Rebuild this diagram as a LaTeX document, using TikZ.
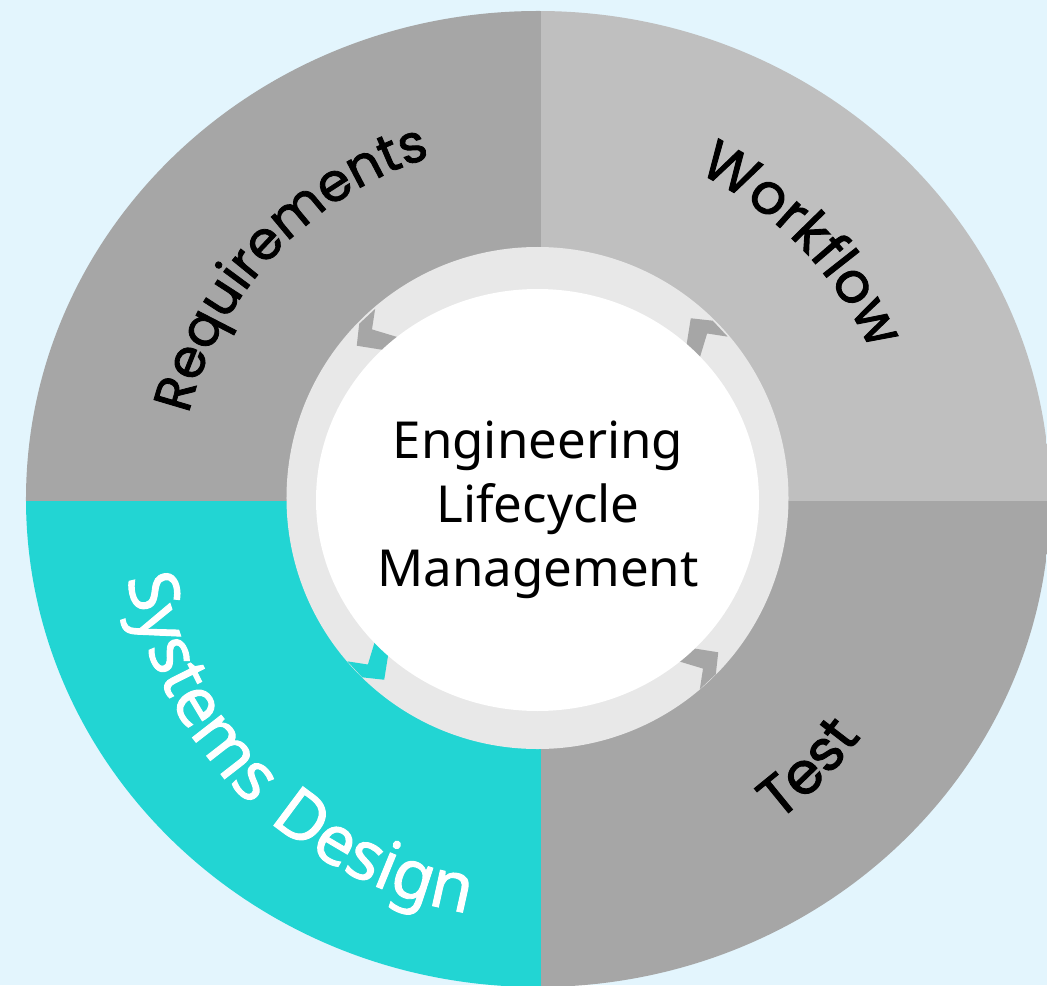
\documentclass[tikz,border=0pt]{standalone}
\usepackage{fontspec}
\setmainfont{Noto Sans}
\newfontfamily\popfont[FakeBold=1.6]{Poppins}
\newfontfamily\sdfont[LetterSpace=8,FakeBold=1.4]{Noto Sans}
\usetikzlibrary{decorations.text}
\definecolor{bgblue}{HTML}{E3F5FD}
\definecolor{darkseg}{HTML}{A6A6A6}
\definecolor{lightseg}{HTML}{BFBFBF}
\definecolor{cyanseg}{HTML}{22D5D3}
\definecolor{ringgray}{HTML}{E8E8E8}
\begin{document}
\begin{tikzpicture}[x=0.5pt,y=0.5pt,
  centertext/.style={anchor=base, inner sep=0pt, font=\fontsize{25.5}{32}\selectfont, text=black},
  arclabel/.style={decorate, decoration={text along path, text align=center, #1}}]
\useasboundingbox (-541,-484) rectangle (506,501);
\fill[bgblue] (-541,-484) rectangle (506,501);
% outer quadrants
\begin{scope}
  \clip (-3,2) ellipse [x radius=512, y radius=488];
  \fill[darkseg] (-600,0) rectangle (0,600);
  \fill[lightseg] (0,0) rectangle (600,600);
  \fill[darkseg] (0,-600) rectangle (600,0);
  \fill[cyanseg] (-600,-600) rectangle (0,0);
\end{scope}
% inner ring of arrows
\fill[ringgray] (-3.5,3) circle [radius=251];
\begin{scope}[shift={(-3.5,2)}]
  \foreach \a/\c in {45/darkseg,135/darkseg,225/cyanseg,315/darkseg}{
    \fill[\c] ({\a+0.5}:250) -- ({\a+4.7}:237) -- ({\a+0.5}:212) -- ({\a-4.5}:212) -- ({\a-0.7}:237) -- ({\a-4.5}:250) -- cycle;
  }
\end{scope}
\fill[white] (-3.5,1) ellipse [x radius=221.5, y radius=211];
% centre text
\node[centertext] (eng) at (-3,43) {Engineering};
\node[centertext] (life) at (-3,-21) {Lifecycle};
\node[centertext] (mgmt) at (-3,-85) {Management};
% curved labels
\path[arclabel={text={|\popfont\fontsize{26.5}{30}\selectfont|Requirements}}]
  (-3,0) ++(181.7:360) arc[start angle=181.7, end angle=91.7, radius=360];
\path[arclabel={text={|\popfont\fontsize{28}{30}\selectfont|Workflow}}]
  (-3,0) ++(84.2:365) arc[start angle=84.2, end angle=4.2, radius=365];
\path[arclabel={text={|\popfont\fontsize{29}{30}\selectfont|Test}}]
  (-3,0) ++(-84.6:400) arc[start angle=-84.6, end angle=-4.6, radius=400];
\path[arclabel={text color=white, text={|\sdfont\fontsize{34}{38}\selectfont|Systems Design}}]
  (-3,0) ++(165.5:418) arc[start angle=165.5, end angle=285.5, radius=418];
\end{tikzpicture}
\end{document}
